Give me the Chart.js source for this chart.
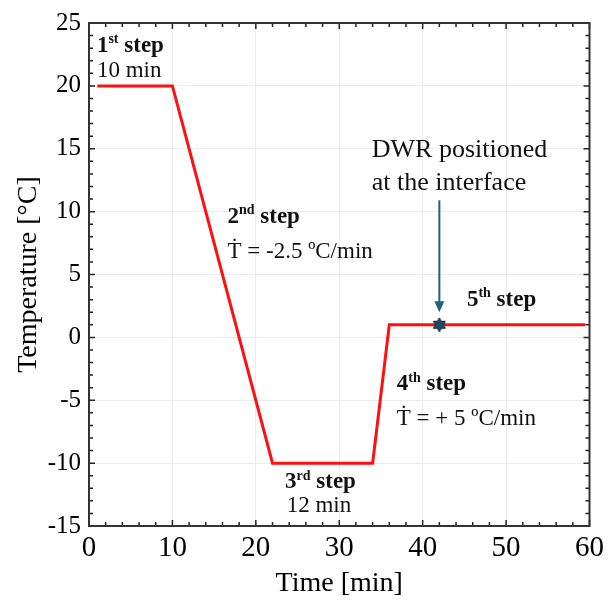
<!DOCTYPE html>
<html>
<head>
<meta charset="utf-8">
<script src="https://cdn.jsdelivr.net/npm/chart.js@4.4.1/dist/chart.umd.min.js"></script>
<style>
    body { margin: 0; background: #fff; }
    #wrap { width: 609px; height: 600px; }
</style>
</head>
<body>
<div id="wrap"><canvas id="tempChart" width="609" height="600"></canvas></div>
<script>
// temperature program
const timeMin = [1, 10, 22, 34, 36, 59.5];
const tempC = [20, 20, -10, -10, 1, 1];
// DWR marker
const markerTime = [42];
const markerTemp = [1];
// axes
const xTickValues = [0, 10, 20, 30, 40, 50, 60];
const yTickValues = [-15, -10, -5, 0, 5, 10, 15, 20, 25];

const serif = '"Liberation Serif", "DejaVu Serif", serif';

// text notes, placed in data units
const notes = [
    { x: 0.95, y: 23.2, step: '1', sup: 'st' },
    { x: 0.95, y: 21.2, text: '10 min' },
    { x: 16.6, y: 9.6, step: '2', sup: 'nd' },
    { x: 16.6, y: 6.8, text: '\u1E6A = -2.5 \u00BAC/min' },
    { x: 33.9, y: 14.85, text: 'DWR positioned', size: 26 },
    { x: 33.9, y: 12.3, text: 'at the interface', size: 26 },
    { x: 45.3, y: 3.0, step: '5', sup: 'th' },
    { x: 36.9, y: -3.75, step: '4', sup: 'th' },
    { x: 36.9, y: -6.5, text: '\u1E6A = + 5 \u00BAC/min' },
    { x: 23.5, y: -11.5, step: '3', sup: 'rd' },
    { x: 23.7, y: -13.4, text: '12 min' }
];

function makeHexagram(size) {
    const c = document.createElement('canvas');
    c.width = size; c.height = size;
    const g = c.getContext('2d');
    const r = size / 2 - 1, cx = size / 2, cy = size / 2;
    g.beginPath();
    for (let i = 0; i < 12; i++) {
        const ang = -Math.PI / 2 + i * Math.PI / 6;
        const rr = i % 2 === 0 ? r : r * 0.58;
        const px = cx + rr * Math.cos(ang), py = cy + rr * Math.sin(ang);
        if (i === 0) g.moveTo(px, py); else g.lineTo(px, py);
    }
    g.closePath();
    g.fillStyle = '#1c4a66';
    g.fill();
    g.strokeStyle = '#0e2a40';
    g.lineWidth = 1;
    g.stroke();
    return c;
}

const frameAndTicks = {
    id: 'frameAndTicks',
    afterDatasetsDraw(chart) {
        const ctx = chart.ctx;
        const a = chart.chartArea;
        const xs = chart.scales.x, ys = chart.scales.y;
        ctx.save();
        ctx.strokeStyle = '#222';
        ctx.lineWidth = 1.5;
        ctx.beginPath();
        for (let v = 0; v <= 60; v += 2) {
            const px = xs.getPixelForValue(v);
            const len = v % 10 === 0 ? 6 : 4;
            ctx.moveTo(px, a.bottom); ctx.lineTo(px, a.bottom - len);
            ctx.moveTo(px, a.top); ctx.lineTo(px, a.top + len);
        }
        for (let v = -15; v <= 25; v += 1) {
            const py = ys.getPixelForValue(v);
            const len = v % 5 === 0 ? 6 : 4;
            ctx.moveTo(a.left, py); ctx.lineTo(a.left + len, py);
            ctx.moveTo(a.right, py); ctx.lineTo(a.right - len, py);
        }
        ctx.stroke();
        ctx.lineWidth = 2;
        ctx.strokeStyle = '#333';
        ctx.strokeRect(a.left, a.top, a.right - a.left, a.bottom - a.top);

        // arrow to the DWR marker
        const ax = xs.getPixelForValue(markerTime[0]);
        const yTop = ys.getPixelForValue(10.9);
        const yTip = ys.getPixelForValue(2.0);
        ctx.strokeStyle = '#1f6283';
        ctx.fillStyle = '#1f6283';
        ctx.lineWidth = 2;
        ctx.beginPath();
        ctx.moveTo(ax, yTop); ctx.lineTo(ax, yTip - 8);
        ctx.stroke();
        ctx.beginPath();
        ctx.moveTo(ax, yTip);
        ctx.lineTo(ax - 5, yTip - 11);
        ctx.lineTo(ax + 5, yTip - 11);
        ctx.closePath();
        ctx.fill();

        // notes
        ctx.fillStyle = '#111';
        ctx.textBaseline = 'middle';
        ctx.textAlign = 'left';
        notes.forEach(n => {
            const px = xs.getPixelForValue(n.x);
            const py = ys.getPixelForValue(n.y);
            if (n.step) {
                ctx.font = 'bold 23px ' + serif;
                ctx.fillText(n.step, px, py);
                let w = ctx.measureText(n.step).width;
                ctx.font = 'bold 14px ' + serif;
                ctx.fillText(n.sup, px + w, py - 6);
                w += ctx.measureText(n.sup).width;
                ctx.font = 'bold 23px ' + serif;
                ctx.fillText(' step', px + w, py);
            } else {
                ctx.font = (n.size || 23) + 'px ' + serif;
                ctx.fillText(n.text, px, py);
            }
        });
        ctx.restore();
    }
};

new Chart(document.getElementById('tempChart').getContext('2d'), {
    type: 'line',
    data: {
        datasets: [{
            data: timeMin.map((t, i) => ({ x: t, y: tempC[i] })),
            borderColor: '#ff1010',
            borderWidth: 3,
            pointRadius: 0,
            tension: 0,
            fill: false,
            order: 2
        }, {
            data: markerTime.map((t, i) => ({ x: t, y: markerTemp[i] })),
            showLine: false,
            pointStyle: makeHexagram(16),
            pointRadius: 8,
            order: 1
        }]
    },
    plugins: [frameAndTicks],
    options: {
        responsive: false,
        animation: false,
        layout: { padding: { top: 22, right: 19, left: 12, bottom: 0 } },
        plugins: { legend: { display: false }, tooltip: { enabled: false } },
        scales: {
            x: {
                type: 'linear',
                min: 0, max: 60,
                afterBuildTicks: s => { s.ticks = xTickValues.map(v => ({ value: v })); },
                afterFit: s => { s.height = 74; },
                grid: { color: '#ececec', lineWidth: 1, drawTicks: false },
                border: { display: false },
                ticks: {
                    color: '#000',
                    padding: 5,
                    maxRotation: 0,
                    font: { family: serif, size: 29 }
                },
                title: {
                    display: true,
                    text: 'Time [min]',
                    color: '#000',
                    padding: { top: 0, bottom: 0 },
                    font: { family: serif, size: 28 }
                }
            },
            y: {
                min: -15, max: 25,
                afterBuildTicks: s => { s.ticks = yTickValues.map(v => ({ value: v })); },
                afterFit: s => { s.width = 77; },
                grid: { color: '#ececec', lineWidth: 1, drawTicks: false },
                border: { display: false },
                ticks: {
                    color: '#000',
                    padding: 8,
                    font: { family: serif, size: 25 }
                },
                title: {
                    display: true,
                    text: 'Temperature [\u00B0C]',
                    color: '#000',
                    padding: { top: 0, bottom: 0 },
                    font: { family: serif, size: 28 }
                }
            }
        }
    }
});
</script>
</body>
</html>
